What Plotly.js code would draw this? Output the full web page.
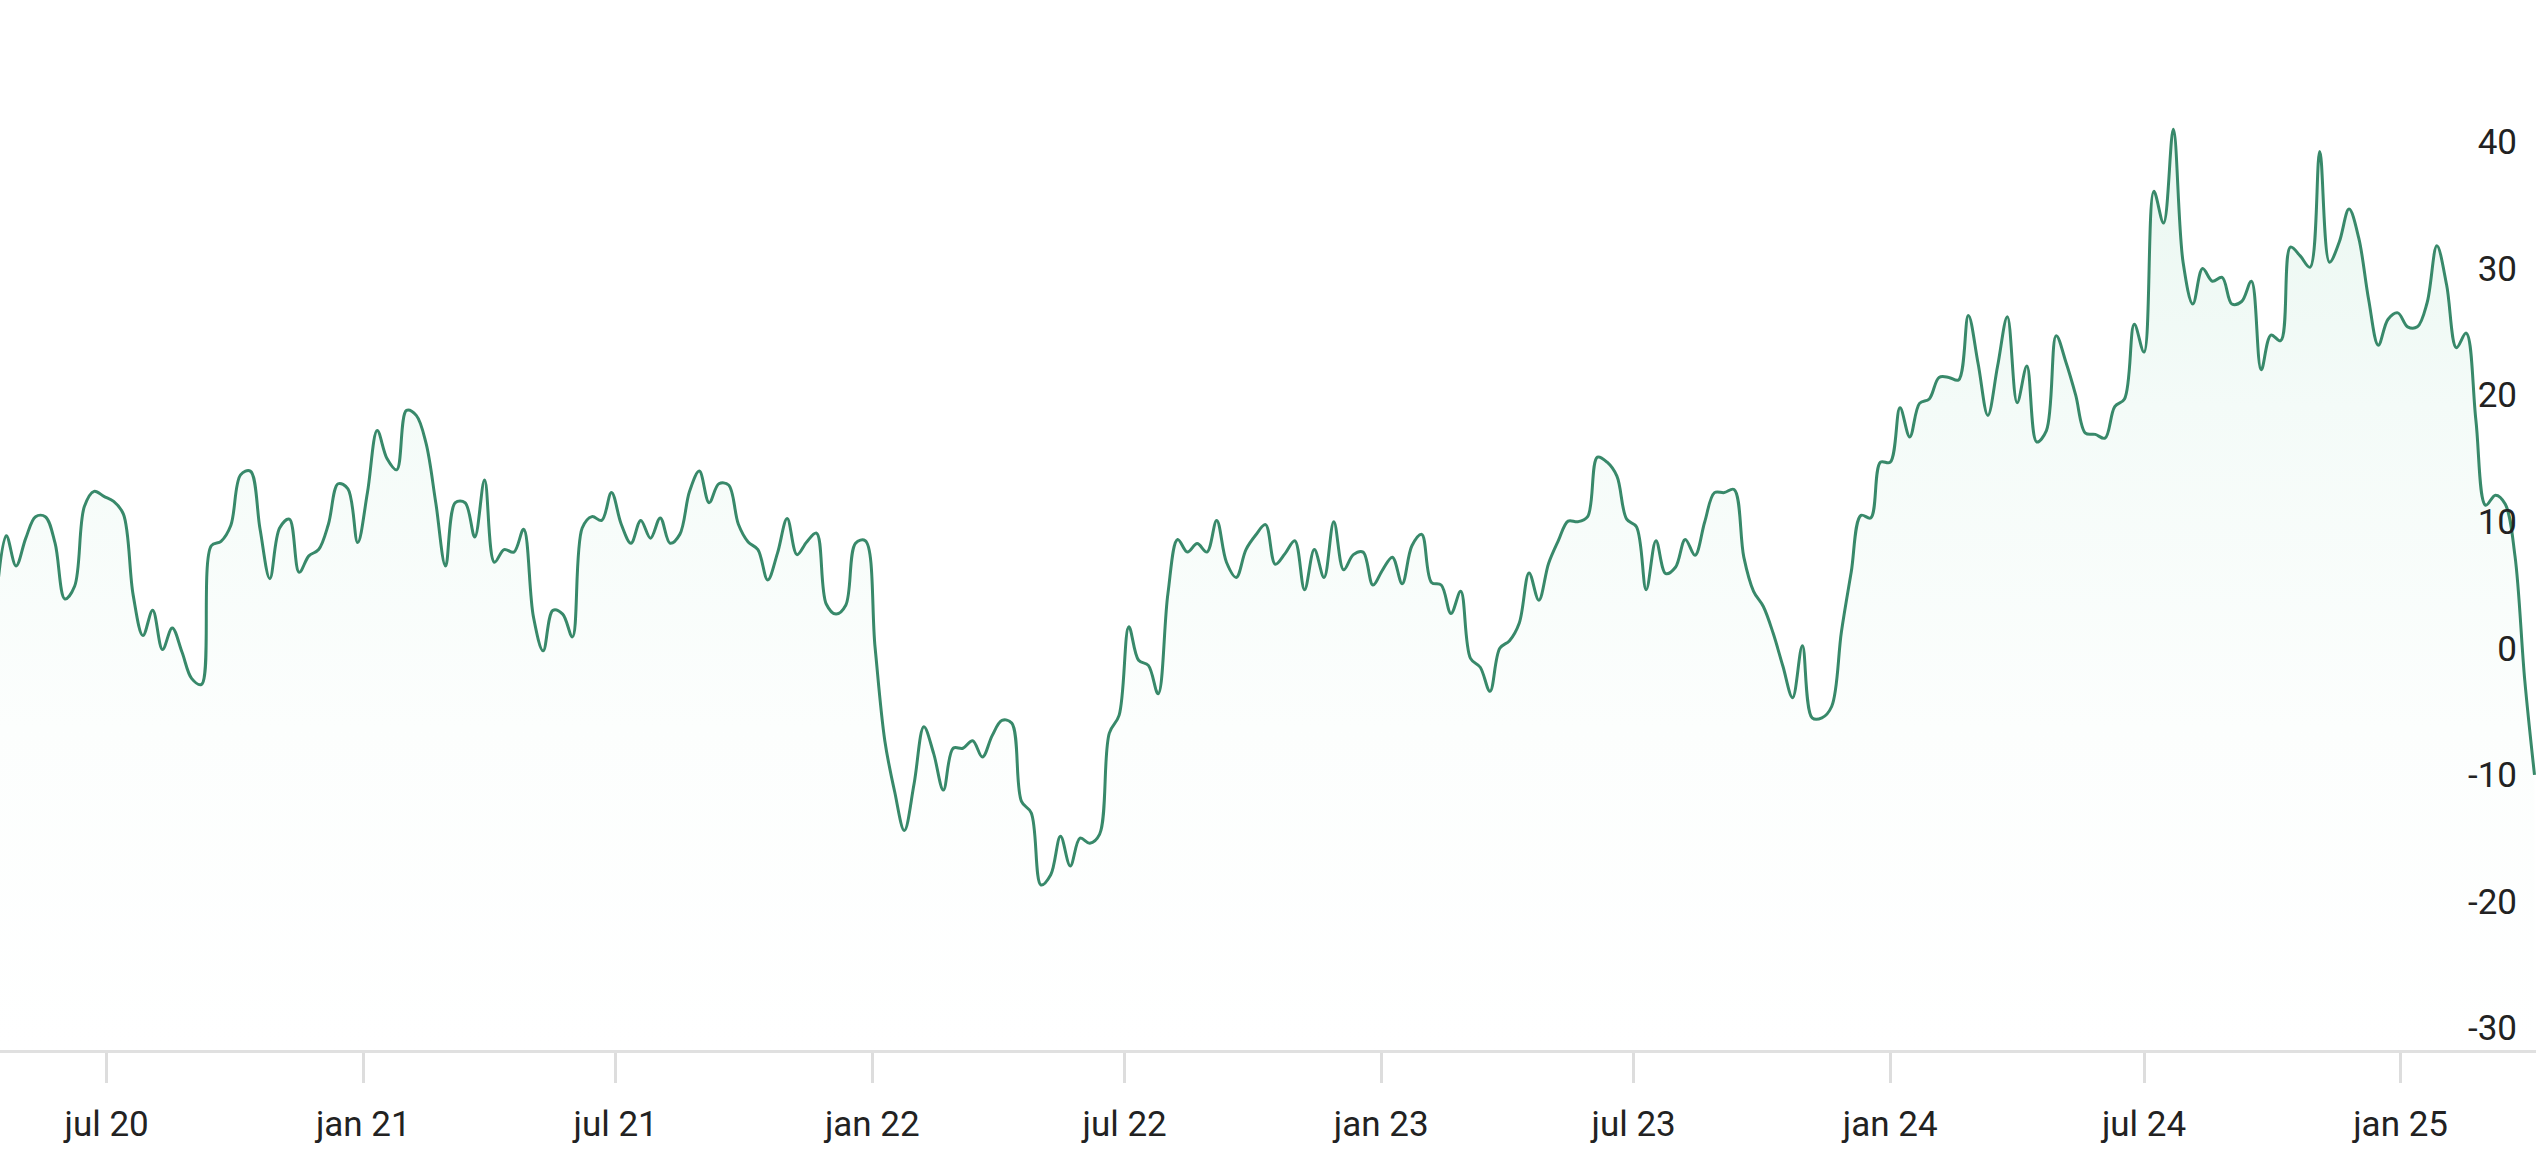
<!DOCTYPE html>
<html>
<head>
<meta charset="utf-8">
<script src="https://cdn.plot.ly/plotly-3.0.1.min.js"></script>
<style>
  html, body { margin: 0; padding: 0; background: #ffffff; }
  #chart { width: 2536px; height: 1162px; }
</style>
</head>
<body>
<div id="chart"></div>
<script>
// Weekly dates (Mondays)
const weeks = [
  "2020-04-13","2020-04-20","2020-04-27","2020-05-04","2020-05-11","2020-05-18","2020-05-25",
  "2020-06-01","2020-06-08","2020-06-15","2020-06-22","2020-06-29","2020-07-06","2020-07-13",
  "2020-07-20","2020-07-27","2020-08-03","2020-08-10","2020-08-17","2020-08-24","2020-08-31",
  "2020-09-07","2020-09-14","2020-09-21","2020-09-28","2020-10-05","2020-10-12","2020-10-19",
  "2020-10-26","2020-11-02","2020-11-09","2020-11-16","2020-11-23","2020-11-30","2020-12-07",
  "2020-12-14","2020-12-21","2020-12-28",
  "2021-01-04","2021-01-11","2021-01-18","2021-01-25","2021-02-01","2021-02-08","2021-02-15",
  "2021-02-22","2021-03-01","2021-03-08","2021-03-15","2021-03-22","2021-03-29","2021-04-05",
  "2021-04-12","2021-04-19","2021-04-26","2021-05-03","2021-05-10","2021-05-17","2021-05-24",
  "2021-05-31","2021-06-07","2021-06-14","2021-06-21","2021-06-28","2021-07-05","2021-07-12",
  "2021-07-19","2021-07-26","2021-08-02","2021-08-09","2021-08-16","2021-08-23","2021-08-30",
  "2021-09-06","2021-09-13","2021-09-20","2021-09-27","2021-10-04","2021-10-11","2021-10-18",
  "2021-10-25","2021-11-01","2021-11-08","2021-11-15","2021-11-22","2021-11-29","2021-12-06",
  "2021-12-13","2021-12-20","2021-12-27",
  "2022-01-03","2022-01-10","2022-01-17","2022-01-24","2022-01-31","2022-02-07","2022-02-14",
  "2022-02-21","2022-02-28","2022-03-07","2022-03-14","2022-03-21","2022-03-28","2022-04-04",
  "2022-04-11","2022-04-18","2022-04-25","2022-05-02","2022-05-09","2022-05-16","2022-05-23",
  "2022-05-30","2022-06-06","2022-06-13","2022-06-20","2022-06-27","2022-07-04","2022-07-11",
  "2022-07-18","2022-07-25","2022-08-01","2022-08-08","2022-08-15","2022-08-22","2022-08-29",
  "2022-09-05","2022-09-12","2022-09-19","2022-09-26","2022-10-03","2022-10-10","2022-10-17",
  "2022-10-24","2022-10-31","2022-11-07","2022-11-14","2022-11-21","2022-11-28","2022-12-05",
  "2022-12-12","2022-12-19","2022-12-26",
  "2023-01-02","2023-01-09","2023-01-16","2023-01-23","2023-01-30","2023-02-06","2023-02-13",
  "2023-02-20","2023-02-27","2023-03-06","2023-03-13","2023-03-20","2023-03-27","2023-04-03",
  "2023-04-10","2023-04-17","2023-04-24","2023-05-01","2023-05-08","2023-05-15","2023-05-22",
  "2023-05-29","2023-06-05","2023-06-12","2023-06-19","2023-06-26","2023-07-03","2023-07-10",
  "2023-07-17","2023-07-24","2023-07-31","2023-08-07","2023-08-14","2023-08-21","2023-08-28",
  "2023-09-04","2023-09-11","2023-09-18","2023-09-25","2023-10-02","2023-10-09","2023-10-16",
  "2023-10-23","2023-10-30","2023-11-06","2023-11-13","2023-11-20","2023-11-27","2023-12-04",
  "2023-12-11","2023-12-18","2023-12-25",
  "2024-01-01","2024-01-08","2024-01-15","2024-01-22","2024-01-29","2024-02-05","2024-02-12",
  "2024-02-19","2024-02-26","2024-03-04","2024-03-11","2024-03-18","2024-03-25","2024-04-01",
  "2024-04-08","2024-04-15","2024-04-22","2024-04-29","2024-05-06","2024-05-13","2024-05-20",
  "2024-05-27","2024-06-03","2024-06-10","2024-06-17","2024-06-24","2024-07-01","2024-07-08",
  "2024-07-15","2024-07-22","2024-07-29","2024-08-05","2024-08-12","2024-08-19","2024-08-26",
  "2024-09-02","2024-09-09","2024-09-16","2024-09-23","2024-09-30","2024-10-07","2024-10-14",
  "2024-10-21","2024-10-28","2024-11-04","2024-11-11","2024-11-18","2024-11-25","2024-12-02",
  "2024-12-09","2024-12-16","2024-12-23","2024-12-30",
  "2025-01-06","2025-01-13","2025-01-20","2025-01-27","2025-02-03","2025-02-10","2025-02-17",
  "2025-02-24","2025-03-03","2025-03-10","2025-03-17","2025-03-24","2025-03-31","2025-04-07"
];

// Values
const values = [
  4.0, 8.9, 6.5, 8.7, 10.4, 10.4, 8.3, 3.9, 4.9, 11.2,
  12.4, 12.0, 11.6, 10.6, 4.2, 1.0, 3.0, -0.1, 1.6, -0.3,
  -2.4, -2.85, 8.1, 8.45, 9.7, 13.7, 14.0, 9.4, 5.5, 9.5,
  10.2, 6.0, 7.3, 7.8, 9.8, 13.0, 12.6, 8.35, 12.3, 17.2,
  15.0, 14.1, 18.8, 18.4, 16.2, 11.5, 6.5, 11.5, 11.5, 8.8,
  13.3, 6.8, 7.8, 7.6, 9.4, 2.5, -0.2, 3.0, 2.7, 0.9,
  9.5, 10.4, 10.1, 12.3, 9.8, 8.3, 10.1, 8.7, 10.3, 8.3,
  9.0, 12.4, 14.0, 11.5, 13.0, 12.9, 9.8, 8.4, 7.8, 5.4,
  7.5, 10.25, 7.4, 8.4, 9.1, 3.5, 2.7, 3.4, 8.3, 8.5,
  0.1, -7.3, -11.3, -14.4, -10.7, -6.2, -8.3, -11.2, -7.9, -7.9,
  -7.3, -8.6, -6.9, -5.7, -5.9, -12.1, -13.0, -18.7, -17.9, -14.85,
  -17.2, -15.0, -15.4, -14.7, -6.7, -5.3, 1.7, -0.95, -1.35, -3.6,
  4.3, 8.6, 7.6, 8.27, 7.6, 10.1, 6.8, 5.6, 7.8, 8.95,
  9.77, 6.64, 7.48, 8.5, 4.63, 7.8, 5.6, 10.0, 6.2, 7.4,
  7.6, 5.0, 6.2, 7.2, 5.1, 8.1, 9.0, 5.2, 5.0, 2.74,
  4.5, -0.8, -1.5, -3.4, 0.0, 0.6, 2.0, 5.95, 3.8, 6.7,
  8.5, 10.05, 10.0, 10.4, 15.1, 14.7, 13.6, 10.2, 9.6, 4.63,
  8.5, 5.9, 6.4, 8.6, 7.35, 10.0, 12.3, 12.3, 12.55, 7.2,
  4.5, 3.3, 1.2, -1.4, -3.9, 0.2, -5.5, -5.5, -4.6, 1.3,
  6.0, 10.5, 10.3, 14.7, 14.7, 19.0, 16.7, 19.35, 19.7, 21.4,
  21.4, 21.2, 26.3, 22.5, 18.4, 22.3, 26.2, 19.4, 22.3, 16.3,
  17.2, 24.7, 22.6, 20.0, 17.0, 16.9, 16.6, 19.1, 19.7, 25.6,
  23.4, 36.1, 33.6, 41.0, 30.5, 27.2, 30.0, 29.0, 29.3, 27.2,
  27.4, 29.0, 22.0, 24.75, 24.3, 31.7, 31.0, 30.1, 39.25, 30.5,
  32.1, 34.7, 32.4, 27.6, 23.95, 26.0, 26.5, 25.4, 25.4, 27.3,
  31.8, 28.7, 23.75, 24.9, 18.0, 11.3, 12.1, 11.4, 7.3, -2.5,
  -10.0
];

// Axis ticks
const xTickVals = ["2020-07-01","2021-01-01","2021-07-01","2022-01-01","2022-07-01",
                   "2023-01-01","2023-07-01","2024-01-01","2024-07-01","2025-01-01"];
const xTickText = ["jul 20","jan 21","jul 21","jan 22","jul 22",
                   "jan 23","jul 23","jan 24","jul 24","jan 25"];
const yTickVals = [-30, -20, -10, 0, 10, 20, 30, 40];
const yTickText = ["-30", "-20", "-10", "0", "10", "20", "30", "40"];

const yMin = -31.74, yMax = 51.22;
const xStart = "2020-04-15 12:00", xEnd = "2025-04-08 02:00";

const baseline = {
  x: [weeks[0], weeks[weeks.length - 1]],
  y: [yMin, yMin],
  type: "scatter",
  mode: "lines",
  line: { width: 0, color: "rgba(0,0,0,0)" },
  hoverinfo: "skip",
  showlegend: false
};

const series = {
  x: weeks,
  y: values,
  type: "scatter",
  mode: "lines",
  line: { color: "#38896a", width: 3, shape: "spline", smoothing: 1 },
  fill: "tonexty",
  fillgradient: {
    type: "vertical",
    start: yMin,
    stop: 41,
    colorscale: [[0, "#ffffff"], [0.35, "#fcfefd"], [0.7, "#f4fbf8"], [1, "#eaf7f1"]]
  },
  showlegend: false,
  hoverinfo: "skip"
};

const font = { family: "Roboto, 'Noto Sans', sans-serif", size: 35, color: "#222222" };

const layout = {
  width: 2536,
  height: 1162,
  margin: { l: 0, r: 0, t: 0, b: 112, pad: 0, autoexpand: false },
  paper_bgcolor: "#ffffff",
  plot_bgcolor: "#ffffff",
  showlegend: false,
  font: font,
  xaxis: {
    type: "date",
    range: [xStart, xEnd],
    tickmode: "array",
    tickvals: xTickVals,
    ticktext: xTickText,
    ticks: "outside",
    ticklen: 30,
    tickwidth: 3,
    tickcolor: "#dddddd",
    ticklabelstandoff: 11,
    showline: true,
    linecolor: "#e0e0e0",
    linewidth: 3,
    showgrid: false,
    zeroline: false,
    tickfont: font,
    automargin: false,
    fixedrange: true
  },
  yaxis: {
    range: [yMin, yMax],
    side: "right",
    tickmode: "array",
    tickvals: yTickVals,
    ticktext: yTickText,
    ticks: "",
    ticklabelposition: "inside",
    ticklabelstandoff: 16,
    showline: false,
    showgrid: false,
    zeroline: false,
    tickfont: font,
    automargin: false,
    fixedrange: true
  }
};

Plotly.newPlot("chart", [baseline, series], layout, { staticPlot: true, displayModeBar: false });
</script>
</body>
</html>
